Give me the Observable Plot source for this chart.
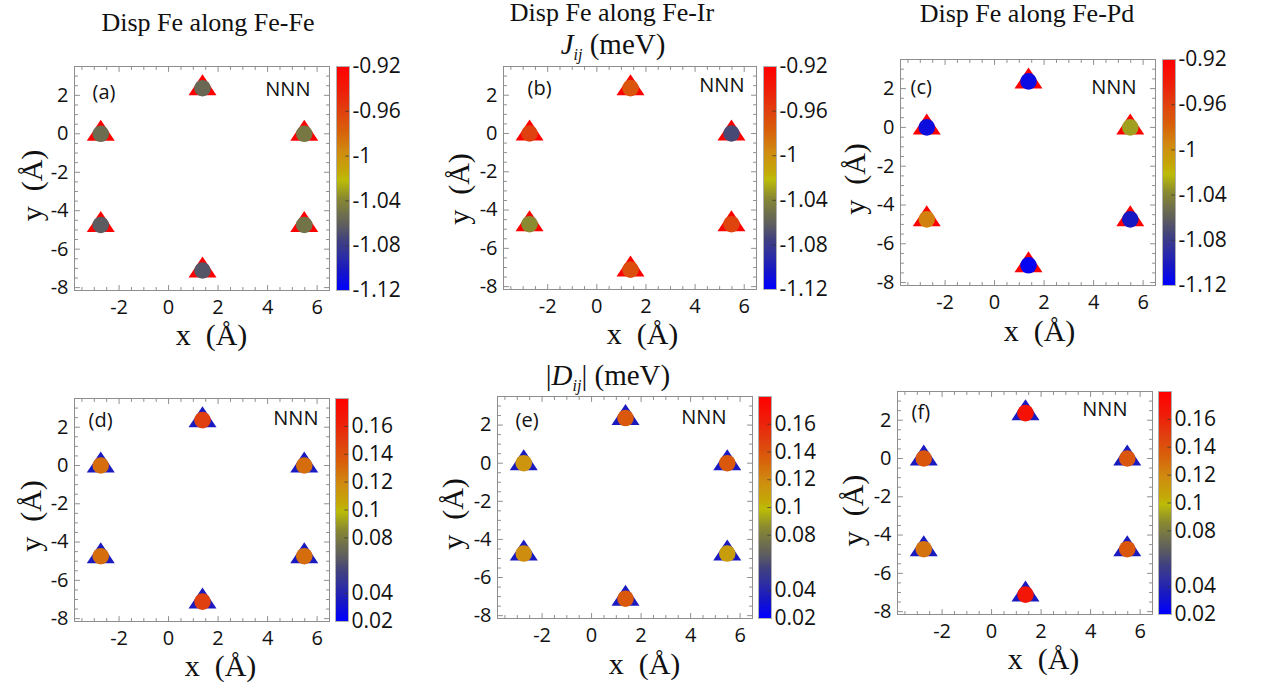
<!DOCTYPE html>
<html><head><meta charset="utf-8">
<script src="https://cdn.jsdelivr.net/npm/d3@7"></script>
<script src="https://cdn.jsdelivr.net/npm/@observablehq/plot@0.6"></script>
<style>
html,body{margin:0;padding:0;background:#fff}
body{width:1265px;height:688px;position:relative;overflow:hidden}
.box{position:absolute}
.title{position:absolute;font-family:"Liberation Serif",serif;font-size:26px;color:#111;white-space:nowrap;transform:translate(-50%,-50%);line-height:1}
.title sub{font-size:16px;vertical-align:-6px}
.title .big{font-size:29px}
</style></head><body>
<script>
// ---------- data ----------
const xTicks = [-2, 0, 2, 4, 6];
const yTicks = [2, 0, -2, -4, -6, -8];
// NNN site positions (Å)
const siteX = [1.37, -2.74, 5.48, -2.74, 5.48, 1.37];
const siteY = [2.37, 0, 0, -4.74, -4.74, -7.11];
// J_ij (meV) for each NNN site
const jFeFe = [-1.056, -1.054, -1.048, -1.063, -1.050, -1.066];
const jFeIr = [-0.972, -0.960, -1.072, -1.038, -0.962, -0.968];
const jFePd = [-1.112, -1.110, -1.031, -0.992, -1.102, -1.116];
// |D_ij| (meV) for each NNN site
const dFeFe = [0.148, 0.129, 0.129, 0.129, 0.129, 0.148];
const dFeIr = [0.137, 0.114, 0.137, 0.118, 0.110, 0.137];
const dFePd = [0.169, 0.138, 0.138, 0.127, 0.138, 0.167];
// reference (triangle) values
const jReference = -0.92;
const dReference = 0.035;
// colour bar domains and tick labels
const jDomain = [-1.12, -0.92];
const dDomain = [0.02, 0.18];
const jBarTicks = [-0.92, -0.96, -1, -1.04, -1.08, -1.12];
const dBarTicks = [0.16, 0.14, 0.12, 0.1, 0.08, 0.04, 0.02];
const panelTags = ["(a)", "(b)", "(c)", "(d)", "(e)", "(f)"];
const cornerText = "NNN";
const xLabel = "x\u2002(Å)";
const yLabel = "y\u2002(Å)";

// ---------- styles / layout ----------
const cmapStops  = [0, 0.08, 0.16, 0.22, 0.29, 0.336, 0.41, 0.49, 0.53, 0.62, 0.71, 0.80, 0.90, 1];
const cmapColors = ["#0000ff","#1515c8","#3030a0","#404080","#5e5e5e","#6e6e4e","#8a8a30","#bcbc08","#c4a808","#d08a10","#d8600a","#e0400f","#f01a08","#ff0000"];
const cmapScale = d3.scaleLinear().domain(cmapStops).range(cmapColors).interpolate(d3.interpolateRgb).clamp(true);
const cmap = t => cmapScale(t);

const layout = [
  {L:74,  R:329,  T:66,  B:290, barL:336,  tag:[18,26],   nnn:[-19,23.5], xl:[9.5,45],  yl:[-42,7]},
  {L:503, R:756,  T:66,  B:289, barL:763,  tag:[24,22],   nnn:[-12,19],   xl:[12.5,45], yl:[-44,11]},
  {L:900, R:1155, T:59,  B:285, barL:1162, tag:[10,28],   nnn:[-19,28],   xl:[11.5,46], yl:[-45,6.5]},
  {L:74,  R:329,  T:398, B:621, barL:335,  tag:[14,22],   nnn:[-11,20],   xl:[18.5,45], yl:[-43,6]},
  {L:497, R:752,  T:396, B:618, barL:758,  tag:[18,24],   nnn:[-26,20.7], xl:[19.5,46], yl:[-44,6.5]},
  {L:897, R:1152, T:391, B:614, barL:1158, tag:[14,20.7], nnn:[-25,18],   xl:[18.5,45], yl:[-44,7.5]}
];
const panelValues = [jFeFe, jFeIr, jFePd, dFeFe, dFeIr, dFePd];
const xDomain = [-3.8, 6.5];
const yDomain = [-8.15, 3.5];
const frameColor = "#8e8e8e";
const sansFont = "'Open Sans', 'Noto Sans', sans-serif";
const serifFont = "'Liberation Serif', 'DejaVu Serif', serif";

const tickShape = {draw(c, l) { c.moveTo(0, 0); c.lineTo(0, -l); }};
const triSymbol = {draw(c, size) {
  const r = Math.sqrt(size / Math.PI);
  c.moveTo(0, -1.4 * r); c.lineTo(1.4 * r, 0.7 * r); c.lineTo(-1.4 * r, 0.7 * r); c.closePath();
}};
const minorX = d3.range(-3.5, 6.51, 0.5).filter(v => Math.abs(v % 2) > 1e-6);
const minorY = d3.range(-8, 3.51, 0.5).filter(v => Math.abs(v % 2) > 1e-6);

function frameTicks() {
  const o = {shape: tickShape, anchor: "start", stroke: frameColor, strokeWidth: 1};
  const m = [];
  for (const [vals, len] of [[xTicks, 5], [minorX, 3]]) {
    m.push(Plot.vector(vals, {...o, x: d => d, frameAnchor: "bottom", rotate: 0, length: len}));
    m.push(Plot.vector(vals, {...o, x: d => d, frameAnchor: "top", rotate: 180, length: len}));
  }
  for (const [vals, len] of [[yTicks, 5], [minorY, 3]]) {
    m.push(Plot.vector(vals, {...o, y: d => d, frameAnchor: "left", rotate: 90, length: len}));
    m.push(Plot.vector(vals, {...o, y: d => d, frameAnchor: "right", rotate: 270, length: len}));
  }
  return m;
}

function place(el, left, top, w, h) {
  const div = document.createElement("div");
  div.className = "box";
  div.style.left = left + "px"; div.style.top = top + "px";
  div.style.width = w + "px"; div.style.height = h + "px";
  div.appendChild(el);
  document.body.appendChild(div);
}

layout.forEach((p, i) => {
  const isJ = i < 3;
  const domain = isJ ? jDomain : dDomain;
  const ref = isJ ? jReference : dReference;
  const vals = panelValues[i];
  const sites = siteX.map((x, k) => ({x, y: siteY[k], v: vals[k], ref}));
  const mL = 74, mR = 10, mT = 10, mB = 75;
  const W = (p.R - p.L) + mL + mR, H = (p.B - p.T) + mT + mB;
  const chart = Plot.plot({
    width: W, height: H, marginLeft: mL, marginRight: mR, marginTop: mT, marginBottom: mB,
    x: {domain: xDomain, label: null},
    y: {domain: yDomain, label: null},
    color: {type: "linear", domain, interpolate: cmap},
    style: {fontFamily: sansFont, fontSize: "20px", color: "#111", background: "transparent", overflow: "visible"},
    marks: [
      Plot.frame({stroke: frameColor}),
      ...frameTicks(),
      Plot.axisX(xTicks, {tickSize: 0, tickPadding: 9, tickFormat: d => String(d), label: null, fontSize: 20}),
      Plot.axisY(yTicks, {tickSize: 0, tickPadding: 6, tickFormat: d => String(d), label: null, fontSize: 20}),
      Plot.dot(sites, {x: "x", y: "y", fill: "ref", r: 10, symbol: triSymbol}),
      Plot.dot(sites, {x: "x", y: "y", fill: "v", r: 8.3}),
      Plot.text([cornerText], {text: d => d, frameAnchor: "top-right", textAnchor: "end", lineAnchor: "middle", dx: p.nnn[0], dy: p.nnn[1], fontSize: 20, fill: "#111"}),
      Plot.text([panelTags[i]], {text: d => d, frameAnchor: "top-left", textAnchor: "start", lineAnchor: "middle", dx: p.tag[0], dy: p.tag[1], fontSize: 20, fill: "#111"}),
      Plot.text([xLabel], {text: d => d, frameAnchor: "bottom", textAnchor: "middle", lineAnchor: "middle", dx: p.xl[0], dy: p.xl[1], fontSize: 30, fontFamily: serifFont, fill: "#111"}),
      Plot.text([yLabel], {text: d => d, frameAnchor: "left", textAnchor: "middle", lineAnchor: "middle", rotate: -90, dx: p.yl[0], dy: p.yl[1], fontSize: 30, fontFamily: serifFont, fill: "#111"})
    ]
  });
  place(chart, p.L - mL, p.T - mT, W, H);

  // colour bar
  const ticks = isJ ? jBarTicks : dBarTicks;
  const n = 224;
  const steps = d3.range(n).map(k => {
    const a = domain[0] + (domain[1] - domain[0]) * k / n;
    const b = domain[0] + (domain[1] - domain[0]) * (k + 1) / n;
    return {y1: a, y2: b, v: (a + b) / 2};
  });
  const bw = 13, cR = 75, cT = 10, cB = 10;
  const bar = Plot.plot({
    width: bw + cR, height: (p.B - p.T) + cT + cB,
    marginLeft: 0, marginRight: cR, marginTop: cT, marginBottom: cB,
    x: {domain: [0, 1], axis: null},
    y: {domain, label: null},
    color: {type: "linear", domain, interpolate: cmap},
    style: {fontFamily: sansFont, fontSize: "21px", color: "#111", background: "transparent", overflow: "visible"},
    marks: [
      Plot.rect(steps, {x1: 0, x2: 1, y1: "y1", y2: "y2", fill: "v", inset: 0, shapeRendering: "crispEdges"}),
      Plot.ruleY(ticks, {y: d => d, x1: 0.72, x2: 1, stroke: "#333", strokeOpacity: 0.7}),
      Plot.frame({stroke: "#b0b0b0"}),
      Plot.axisY(ticks, {anchor: "right", tickSize: 0, tickPadding: 3, tickFormat: d => String(d), label: null, fontSize: 21})
    ]
  });
  place(bar, p.barL, p.T - cT, bw + cR, (p.B - p.T) + cT + cB);
});

// titles
const titles = [
  {html: "Disp Fe along Fe-Fe", x: 208, y: 23},
  {html: "Disp Fe along Fe-Ir", x: 612, y: 13},
  {html: "<span class='big'><i>J</i><sub><i>ij</i></sub> (meV)</span>", x: 613, y: 46},
  {html: "Disp Fe along Fe-Pd", x: 1027, y: 14},
  {html: "<span class='big'>|<i>D</i><sub><i>ij</i></sub>| (meV)</span>", x: 608, y: 377}
];
for (const t of titles) {
  const d = document.createElement("div");
  d.className = "title";
  d.innerHTML = t.html;
  d.style.left = t.x + "px"; d.style.top = t.y + "px";
  document.body.appendChild(d);
}
</script>
</body></html>
